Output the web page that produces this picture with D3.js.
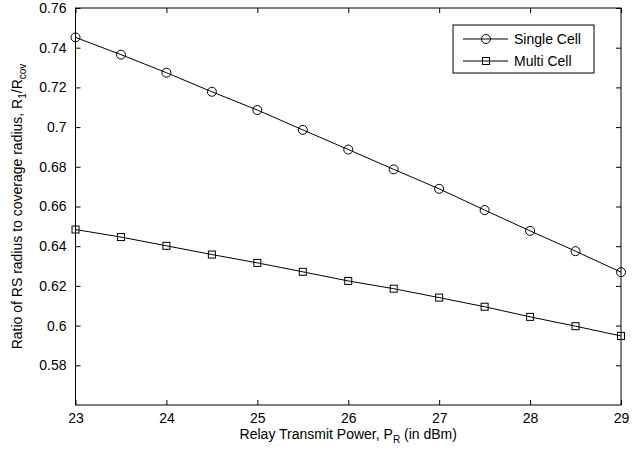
<!DOCTYPE html>
<html>
  <head>
    <meta charset="utf-8">
    <title>RS radius ratio</title>
    <script src="https://d3js.org/d3.v7.min.js"></script>
    <style>
      body { margin: 0; background: #fff; }
      svg { font-family: "Liberation Sans", Arial, sans-serif; }
      .tick text { font-size: 14px; fill: #000; }
    </style>
  </head>
  <body>
    <svg id="chart" width="642" height="449"></svg>
    <script>
      // values
      var powerDbm = [23, 23.5, 24, 24.5, 25, 25.5, 26, 26.5, 27, 27.5, 28, 28.5, 29];
      var singleCell = [0.7452, 0.7365, 0.7274, 0.7178, 0.7086, 0.6986, 0.6887, 0.6787, 0.6689, 0.6582, 0.6477, 0.6375, 0.6269];
      var multiCell = [0.6484, 0.6446, 0.6402, 0.6358, 0.6316, 0.6271, 0.6225, 0.6186, 0.6141, 0.6095, 0.6044, 0.5997, 0.5948];
      var xTicks = [23, 24, 25, 26, 27, 28, 29];
      var yTicks = [0.58, 0.6, 0.62, 0.64, 0.66, 0.68, 0.7, 0.72, 0.74, 0.76];
      var seriesNames = ["Single Cell", "Multi Cell"];

      var margin = { top: 8, right: 21, bottom: 44, left: 75.5 };
      var width = 642, height = 449;
      var svg = d3.select("#chart");

      var x = d3.scaleLinear().domain([23, 29]).range([margin.left, width - margin.right]);
      var y = d3.scaleLinear().domain([0.56, 0.76]).range([height - margin.bottom, margin.top]);

      // axes with inward ticks, mirrored on top and right
      svg.append("g")
        .attr("transform", "translate(0," + (height - margin.bottom) + ")")
        .call(d3.axisBottom(x).tickValues(xTicks).tickSize(-5).tickPadding(8).tickFormat(d3.format("d")))
        .call(function(g) { g.select(".domain").remove(); });
      svg.append("g")
        .attr("transform", "translate(0," + margin.top + ")")
        .call(d3.axisTop(x).tickValues(xTicks).tickSize(-5).tickFormat(""))
        .call(function(g) { g.select(".domain").remove(); });
      svg.append("g")
        .attr("transform", "translate(" + margin.left + ",0)")
        .call(d3.axisLeft(y).tickValues(yTicks).tickSize(-5).tickPadding(9).tickFormat(function(d) { return d3.format("")(+d.toFixed(2)); }))
        .call(function(g) { g.select(".domain").remove(); });
      svg.append("g")
        .attr("transform", "translate(" + (width - margin.right) + ",0)")
        .call(d3.axisRight(y).tickValues(yTicks).tickSize(-5).tickFormat(""))
        .call(function(g) { g.select(".domain").remove(); });
      svg.selectAll(".tick line").attr("stroke", "#000");

      svg.append("rect")
        .attr("x", margin.left).attr("y", margin.top)
        .attr("width", width - margin.left - margin.right)
        .attr("height", height - margin.top - margin.bottom)
        .attr("fill", "none").attr("stroke", "#000").attr("stroke-width", 1);

      var line = d3.line()
        .x(function(d, i) { return x(powerDbm[i]); })
        .y(function(d) { return y(d); });

      function drawMarker(g, kind, cx, cy) {
        if (kind == 0) {
          g.append("circle").attr("cx", cx).attr("cy", cy).attr("r", 4.5)
            .attr("fill", "none").attr("stroke", "#000");
        } else {
          g.append("rect").attr("x", cx - 3.5).attr("y", cy - 3.5).attr("width", 7).attr("height", 7)
            .attr("fill", "none").attr("stroke", "#000");
        }
      }

      [singleCell, multiCell].forEach(function(vals, k) {
        var g = svg.append("g");
        g.append("path").datum(vals).attr("d", line)
          .attr("fill", "none").attr("stroke", "#000").attr("stroke-width", 1);
        vals.forEach(function(v, i) { drawMarker(g, k, x(powerDbm[i]), y(v)); });
      });

      // legend
      var legend = svg.append("g").attr("transform", "translate(453,25)");
      legend.append("rect").attr("width", 141).attr("height", 48)
        .attr("fill", "#fff").attr("stroke", "#000");
      seriesNames.forEach(function(name, k) {
        var ly = 14 + k * 22;
        legend.append("line").attr("x1", 10).attr("x2", 55).attr("y1", ly).attr("y2", ly).attr("stroke", "#000");
        drawMarker(legend, k, 33, ly);
        legend.append("text").attr("x", 61).attr("y", ly + 5).attr("font-size", 14).text(name);
      });

      // axis labels
      var xl = svg.append("text").attr("x", x(26)).attr("y", 439)
        .attr("text-anchor", "middle").attr("font-size", 14);
      xl.append("tspan").text("Relay Transmit Power, P");
      xl.append("tspan").attr("font-size", 10).attr("dy", 4).text("R");
      xl.append("tspan").attr("dy", -4).text(" (in dBm)");

      var yl = svg.append("text")
        .attr("transform", "translate(22," + ((margin.top + height - margin.bottom) / 2) + ") rotate(-90)")
        .attr("text-anchor", "middle").attr("font-size", 14);
      yl.append("tspan").text("Ratio of RS radius to coverage radius, R");
      yl.append("tspan").attr("font-size", 10).attr("dy", 4).text("1");
      yl.append("tspan").attr("dy", -4).text("/R");
      yl.append("tspan").attr("font-size", 10).attr("dy", 4).text("cov");
    </script>
  </body>
</html>
